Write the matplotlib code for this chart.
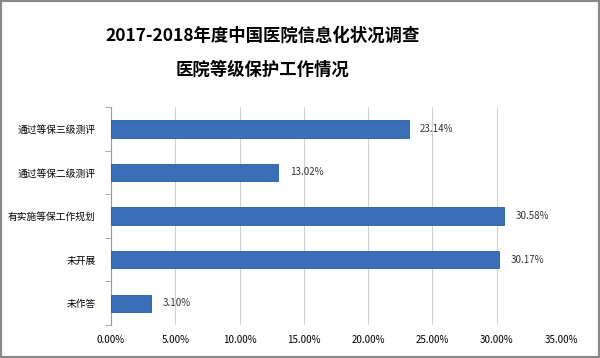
import matplotlib.pyplot as plt
from matplotlib.ticker import FuncFormatter
from matplotlib.patches import Rectangle

plt.rcParams['font.family'] = ['Noto Sans CJK SC', 'DejaVu Sans']

categories = ['未作答', '未开展', '有实施等保工作规划', '通过等保二级测评', '通过等保三级测评']
values = [3.10, 30.17, 30.58, 13.02, 23.14]
title_lines = ['2017-2018年度中国医院信息化状况调查', '医院等级保护工作情况']

fig = plt.figure(figsize=(6, 3.58), dpi=100)
ax = fig.add_axes([0.185, 0.092, 0.75, 0.609])

y = range(len(categories))
ax.barh(y, values, height=0.4, color='#3A6EB6', edgecolor='#2C5A99', linewidth=0.6, zorder=3)
for yi, v in zip(y, values):
    ax.text(v + 0.9, yi, f'{v:.2f}%', va='center', ha='left', fontsize=7, color='#333333')

ax.set_xlim(0, 35)
ax.set_ylim(-0.5, len(categories) - 0.5)
ax.set_xticks([0, 5, 10, 15, 20, 25, 30, 35])
ax.xaxis.set_major_formatter(FuncFormatter(lambda x, p: f'{x:.2f}%'))
ax.set_yticks(list(y))
ax.set_yticklabels(categories, fontsize=7)
ax.set_yticks([i + 0.5 for i in range(-1, len(categories))], minor=True)
ax.tick_params(axis='y', which='major', length=0, pad=11)
ax.tick_params(axis='y', which='minor', length=4, color='#999999')
ax.tick_params(axis='x', length=0, labelsize=7, pad=7)
ax.grid(axis='x', color='#D0D0D0', linewidth=0.8, zorder=0)
for s in ['top', 'right', 'bottom']:
    ax.spines[s].set_visible(False)
ax.spines['left'].set_color('#999999')

fig.text(0.437, 0.9, title_lines[0], ha='center', va='center', fontsize=12.5, fontweight='bold')
fig.text(0.437, 0.805, title_lines[1], ha='center', va='center', fontsize=12.5, fontweight='bold')

fig.patches.append(Rectangle((0, 0), 1, 1, transform=fig.transFigure, fill=False,
                             edgecolor='#8A8A8A', linewidth=3))
fig.savefig('out.png', dpi=100)
